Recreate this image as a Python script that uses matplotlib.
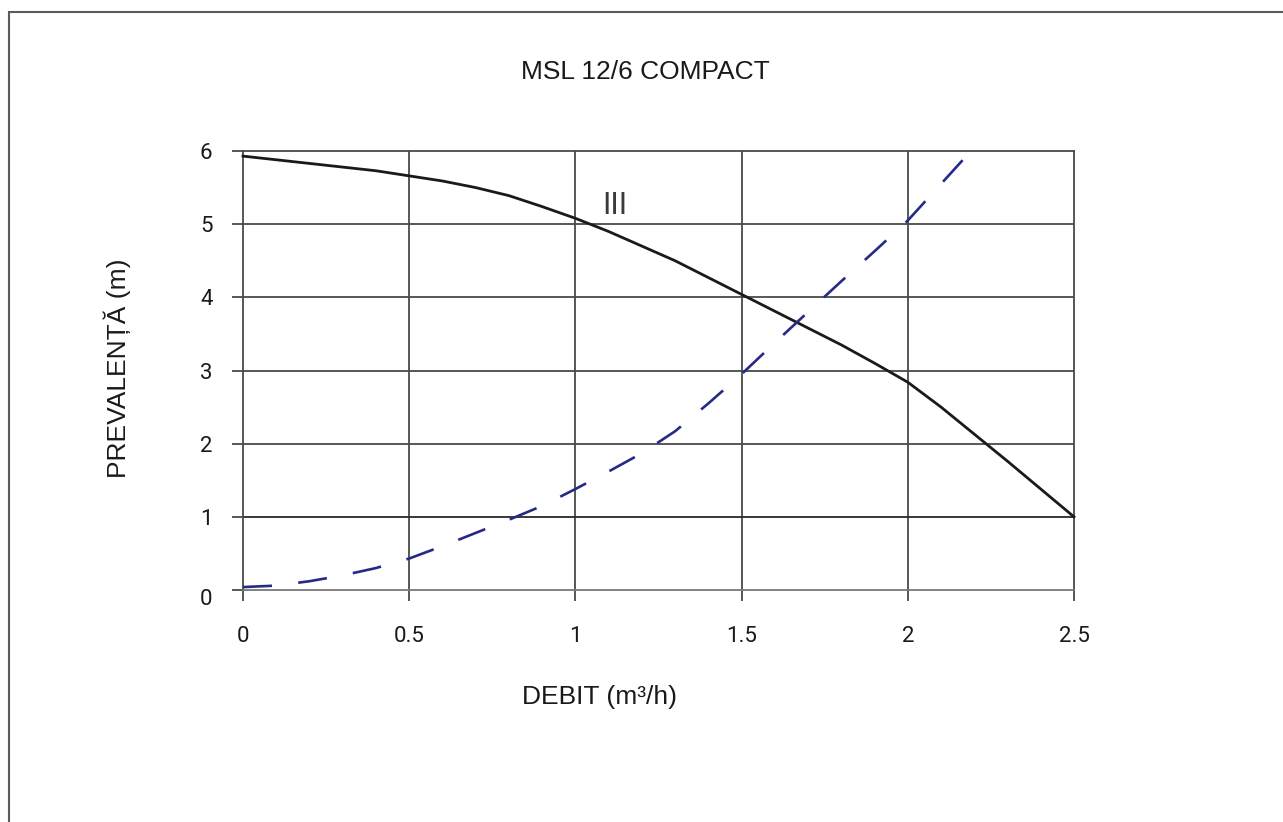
import matplotlib.pyplot as plt
import matplotlib.transforms as mtransforms
from matplotlib.patches import Rectangle

# pump curve III (head vs flow)
flow_pump = [0.0, 0.1, 0.2, 0.3, 0.4, 0.5, 0.6, 0.7, 0.8, 0.9, 1.0, 1.1, 1.2,
             1.3, 1.4, 1.5, 1.6, 1.7, 1.8, 1.9, 2.0, 2.1, 2.2, 2.3, 2.4, 2.5]
head_pump = [5.93, 5.88, 5.83, 5.78, 5.73, 5.66, 5.59, 5.5, 5.39, 5.24, 5.08, 4.9, 4.7,
             4.5, 4.27, 4.04, 3.81, 3.58, 3.35, 3.1, 2.84, 2.5, 2.13, 1.76, 1.38, 1.0]

# system curve (dashed)
flow_sys = [0.0, 0.1, 0.2, 0.3, 0.4, 0.5, 0.6, 0.7, 0.8, 0.9, 1.0, 1.1,
            1.2, 1.3, 1.4, 1.5, 1.6, 1.7, 1.8, 1.9, 2.0, 2.1, 2.2]
head_sys = [0.04, 0.06, 0.12, 0.2, 0.3, 0.43, 0.6, 0.78, 0.96, 1.15, 1.38, 1.62,
            1.87, 2.17, 2.55, 2.95, 3.38, 3.8, 4.22, 4.63, 5.05, 5.55, 6.05]

x_ticks = [0, 0.5, 1, 1.5, 2, 2.5]
x_labels = ["0", "0.5", "1", "1.5", "2", "2.5"]
y_ticks = [0, 1, 2, 3, 4, 5, 6]

grid_col = "#4a4a4a"
sans = ["Liberation Sans", "DejaVu Sans"]
digits = ["Roboto", "DejaVu Sans"]

fig = plt.figure(figsize=(12.83, 8.22), dpi=100)
fig.patches.append(Rectangle((9 / 1283, -0.05), 1.1, 1 - 12 / 822 + 0.05,
                             transform=fig.transFigure, fill=False,
                             edgecolor="#5a5a5a", linewidth=1.5))

ax = fig.add_axes([243 / 1283, 1 - 590 / 822, (1074 - 243) / 1283, (590 - 151) / 822])
ax.set_xlim(0, 2.5)
ax.set_ylim(0, 6)

for x in x_ticks[1:-1]:
    ax.axvline(x, color=grid_col, linewidth=1.3, zorder=1)
for y in y_ticks[1:-1]:
    ax.axhline(y, color=grid_col if y != 1 else "#2a2a2a", linewidth=1.3, zorder=1)

for side in ["top", "left", "right"]:
    ax.spines[side].set_color(grid_col)
    ax.spines[side].set_linewidth(1.3)
ax.spines["bottom"].set_color("#777777")
ax.spines["bottom"].set_linewidth(1.3)

ax.plot(flow_pump, head_pump, color="#1a1a1a", linewidth=2.0, zorder=3, clip_on=False)
ax.plot(flow_sys, head_sys, color="#262a87", linewidth=1.9, zorder=3,
        dashes=(11, 10), clip_on=False)

ax.text(1.12, 5.26, "III", fontsize=22, family=digits, color="#3a3a3a",
        ha="center", va="center")

ax.set_xticks(x_ticks)
ax.set_xticklabels(x_labels)
ax.set_yticks(y_ticks)
ax.tick_params(direction="out", length=8, width=1.3, color=grid_col,
               labelsize=16, labelcolor="#1a1a1a")
for lab in ax.get_xticklabels() + ax.get_yticklabels():
    lab.set_family(digits)
ax.tick_params(axis="x", pad=18)
ax.tick_params(axis="y", pad=14)

# the "0" on the y axis sits a little below its grid line
zero = ax.get_yticklabels()[0]
zero.set_transform(zero.get_transform() +
                   mtransforms.ScaledTranslation(0, -7 / 100, fig.dpi_scale_trans))

fig.text(645 / 1283, 1 - 72 / 822, "MSL 12/6 COMPACT", fontsize=19, family=sans,
         color="#1a1a1a", ha="center", va="center")
fig.text(600 / 1283, 1 - 697 / 822, "DEBIT (m³/h)", fontsize=19, family=sans,
         color="#1a1a1a", ha="center", va="center")
fig.text(117 / 1283, 1 - 368 / 822, "PREVALENȚĂ (m)", fontsize=19, family=sans,
         color="#1a1a1a", ha="center", va="center", rotation=90)

fig.savefig("out.png", dpi=100)
